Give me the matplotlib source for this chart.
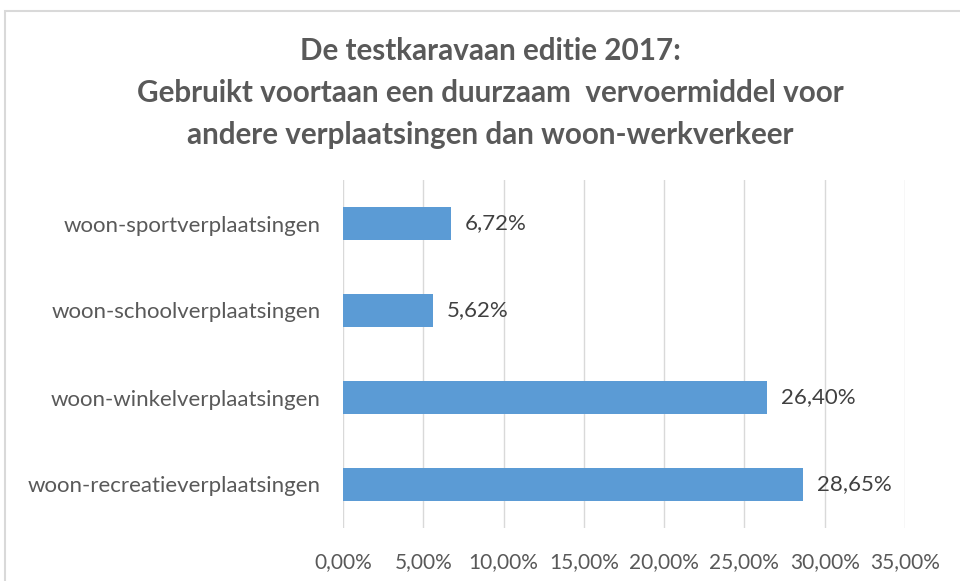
import matplotlib.pyplot as plt
from matplotlib.patches import Rectangle

categories = ["woon-recreatieverplaatsingen", "woon-winkelverplaatsingen",
              "woon-schoolverplaatsingen", "woon-sportverplaatsingen"]
values = [28.65, 26.40, 5.62, 6.72]
xticks = [0, 5, 10, 15, 20, 25, 30, 35]
title = ("De testkaravaan editie 2017:\n"
         "Gebruikt voortaan een duurzaam  vervoermiddel voor\n"
         "andere verplaatsingen dan woon-werkverkeer")

def pct(v):
    return f"{v:.2f}".replace(".", ",") + "%"

plt.rcParams['font.family'] = ['Lato', 'DejaVu Sans']

fig = plt.figure(figsize=(9.6, 5.81), dpi=100)
fig.patches.append(Rectangle((5 / 960, -0.01), 1.0, 1 - 11 / 581 + 0.01,
                             transform=fig.transFigure, fill=False,
                             edgecolor="#d9d9d9", linewidth=1.5))

ax = fig.add_axes([343 / 960, 1 - 528 / 581, (905 - 343) / 960, 348 / 581])
y = range(len(categories))
ax.barh(y, values, height=0.37, color="#5b9bd5", zorder=3)
for i, v in zip(y, values):
    ax.text(v + 0.85, i, pct(v), va="center", ha="left", fontsize=16, color="#404040")

ax.set_xlim(0, 35)
ax.set_ylim(-0.5, len(categories) - 0.5)
ax.set_xticks(xticks)
ax.set_xticklabels([pct(t) for t in xticks], fontsize=15, color="#595959")
ax.set_yticks(list(y))
ax.set_yticklabels(categories, fontsize=16, color="#595959")
ax.tick_params(length=0)
ax.tick_params(axis="y", pad=16)
ax.tick_params(axis="x", pad=17)
ax.grid(axis="x", color="#d9d9d9", linewidth=1, zorder=0)
for s in ax.spines.values():
    s.set_visible(False)

fig.text(490 / 960, 1 - 37 / 581, title, ha="center", va="top", fontsize=21.3,
         fontweight="bold", color="#595959", linespacing=1.6)

fig.savefig("out.png", dpi=100)
